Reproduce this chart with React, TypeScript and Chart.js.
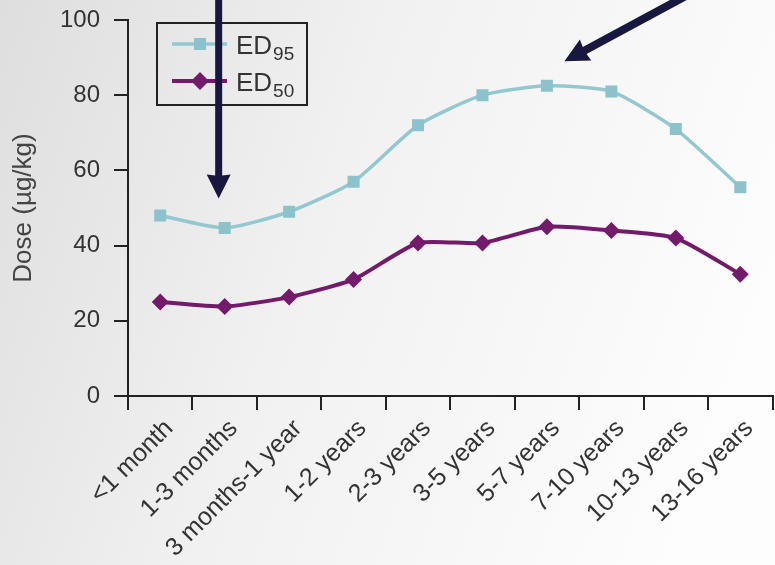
import React, { useEffect, useRef } from "react";
import { Chart, registerables } from "chart.js";

Chart.register(...registerables);

const CATEGORIES = [
  "<1 month",
  "1-3 months",
  "3 months-1 year",
  "1-2 years",
  "2-3 years",
  "3-5 years",
  "5-7 years",
  "7-10 years",
  "10-13 years",
  "13-16 years",
];
const ED95 = [48, 44.7, 49, 57, 72, 80, 82.5, 81, 71, 55.5];
const ED50 = [25, 23.8, 26.3, 31, 40.7, 40.7, 45, 44, 42, 32.4];
const Y_MIN = 0;
const Y_MAX = 100;
const Y_STEP = 20;
const SERIES_NAMES = ["ED", "ED"];
const SERIES_SUBS = ["95", "50"];

const FONT = "'Liberation Sans', Arial, sans-serif";
const C95 = "#93c8d0";
const C50 = "#731a6a";
const NAVY = "#17173f";

function drawArrow(ctx: CanvasRenderingContext2D, x0: number, y0: number, x1: number, y1: number, shaftW: number, headLen: number, headW: number) {
  const dx = x1 - x0, dy = y1 - y0;
  const len = Math.hypot(dx, dy);
  const ux = dx / len, uy = dy / len;
  const px = -uy, py = ux;
  const bx = x1 - ux * headLen, by = y1 - uy * headLen;
  ctx.save();
  ctx.fillStyle = NAVY;
  ctx.beginPath();
  ctx.moveTo(x0 + px * shaftW / 2, y0 + py * shaftW / 2);
  ctx.lineTo(bx + px * shaftW / 2 + ux * 1, by + py * shaftW / 2 + uy * 1);
  ctx.lineTo(bx + px * headW / 2, by + py * headW / 2);
  ctx.lineTo(x1, y1);
  ctx.lineTo(bx - px * headW / 2, by - py * headW / 2);
  ctx.lineTo(bx - px * shaftW / 2 + ux * 1, by - py * shaftW / 2 + uy * 1);
  ctx.lineTo(x0 - px * shaftW / 2, y0 - py * shaftW / 2);
  ctx.closePath();
  ctx.fill();
  ctx.restore();
}

const bgPlugin = {
  id: "bg",
  beforeDraw(chart: any) {
    const { ctx, width, height } = chart;
    const g = ctx.createLinearGradient(0, 0, width, height * 0.5);
    g.addColorStop(0, "#dedede");
    g.addColorStop(0.45, "#f1f1f1");
    g.addColorStop(1, "#fdfdfd");
    ctx.save();
    ctx.fillStyle = g;
    ctx.fillRect(0, 0, width, height);
    ctx.restore();
  },
};

const overlayPlugin = {
  id: "overlay",
  afterDraw(chart: any) {
    const ctx: CanvasRenderingContext2D = chart.ctx;
    const xs = chart.scales.x;
    const ys = chart.scales.y;
    // legend
    const lx = 157, ly = 23, lw = 150, lh = 82;
    ctx.save();
    ctx.strokeStyle = "#222";
    ctx.lineWidth = 2;
    ctx.strokeRect(lx, ly, lw, lh);
    const rows = [44, 81];
    chart.data.datasets.forEach((ds: any, i: number) => {
      const y = rows[i];
      ctx.strokeStyle = ds.borderColor;
      ctx.lineWidth = ds.borderWidth;
      ctx.beginPath();
      ctx.moveTo(172, y);
      ctx.lineTo(227, y);
      ctx.stroke();
      ctx.fillStyle = ds.pointBackgroundColor;
      ctx.beginPath();
      if (ds.pointStyle === "rect") {
        ctx.rect(194, y - 6, 12, 12);
      } else {
        const r = 9;
        ctx.moveTo(200, y - r);
        ctx.lineTo(200 + r, y);
        ctx.lineTo(200, y + r);
        ctx.lineTo(200 - r, y);
        ctx.closePath();
      }
      ctx.fill();
      ctx.fillStyle = "#333";
      ctx.textBaseline = "alphabetic";
      ctx.textAlign = "left";
      ctx.font = `26px ${FONT}`;
      ctx.fillText(SERIES_NAMES[i], 236, y + 10);
      const w = ctx.measureText(SERIES_NAMES[i]).width;
      ctx.font = `19px ${FONT}`;
      ctx.fillText(SERIES_SUBS[i], 236 + w + 1, y + 16);
    });
    ctx.restore();

    // arrows
    const ax = xs.getPixelForValue(1) - 6;
    drawArrow(ctx, ax, -5, ax, ys.getPixelForValue(52.5), 7, 24, 24);
    const tx = xs.getPixelForValue(6) + 17.5;
    const ty = ys.getPixelForValue(89);
    drawArrow(ctx, tx + 130, ty - 70, tx, ty, 8, 24, 24);
  },
};

export default function App() {
  const ref = useRef<HTMLCanvasElement>(null);
  useEffect(() => {
    if (!ref.current) return;
    const chart = new Chart(ref.current, {
      type: "line",
      data: {
        labels: CATEGORIES,
        datasets: [
          {
            label: "ED95",
            data: ED95,
            borderColor: C95,
            backgroundColor: C95,
            pointBackgroundColor: "#8cc2cb",
            pointBorderColor: "#8cc2cb",
            pointStyle: "rect",
            pointRadius: 8.5,
            pointBorderWidth: 0,
            borderWidth: 3.5,
            tension: 0.2,
          } as any,
          {
            label: "ED50",
            data: ED50,
            borderColor: C50,
            backgroundColor: C50,
            pointBackgroundColor: C50,
            pointBorderColor: C50,
            pointStyle: "rectRot",
            pointRadius: 8.5,
            pointBorderWidth: 0,
            borderWidth: 4,
            tension: 0.2,
          } as any,
        ],
      },
      options: {
        animation: false,
        responsive: false,
        maintainAspectRatio: false,
        layout: { padding: { left: 0, top: 20, right: 3, bottom: 0 } },
        plugins: { legend: { display: false }, tooltip: { enabled: false } },
        scales: {
          x: {
            type: "category",
            offset: true,
            grid: {
              offset: true,
              drawOnChartArea: false,
              drawTicks: true,
              tickLength: 14,
              color: "#222",
              lineWidth: 2,
            },
            border: { display: true, color: "#222", width: 2 },
            ticks: {
              minRotation: 45,
              maxRotation: 45,
              autoSkip: false,
              padding: 4,
              labelOffset: 9,
              color: "#333",
              font: { family: FONT, size: 25 },
            },
            afterFit(scale: any) {
              scale.height = 565 - 396;
              scale.paddingLeft = 0;
              scale.paddingRight = 0;
            },
          },
          y: {
            min: Y_MIN,
            max: Y_MAX,
            grid: {
              drawOnChartArea: false,
              drawTicks: true,
              tickLength: 14,
              color: "#222",
              lineWidth: 2,
            },
            border: { display: true, color: "#222", width: 2 },
            ticks: {
              stepSize: Y_STEP,
              padding: 14,
              color: "#333",
              font: { family: FONT, size: 24 },
            },
            title: {
              display: true,
              text: "Dose (µg/kg)",
              color: "#444",
              font: { family: FONT, size: 26 },
              padding: { top: 8, bottom: 0 },
            },
            afterFit(scale: any) {
              scale.width = 128;
              scale.paddingTop = 0;
              scale.paddingBottom = 0;
            },
          },
        },
      },
      plugins: [bgPlugin, overlayPlugin],
    });
    return () => chart.destroy();
  }, []);
  return (
    <div style={{ position: "fixed", left: 0, top: 0, width: 775, height: 565, overflow: "hidden" }}>
      <canvas ref={ref} width={781} height={565} style={{ display: "block", width: 781, height: 565 }} />
    </div>
  );
}
